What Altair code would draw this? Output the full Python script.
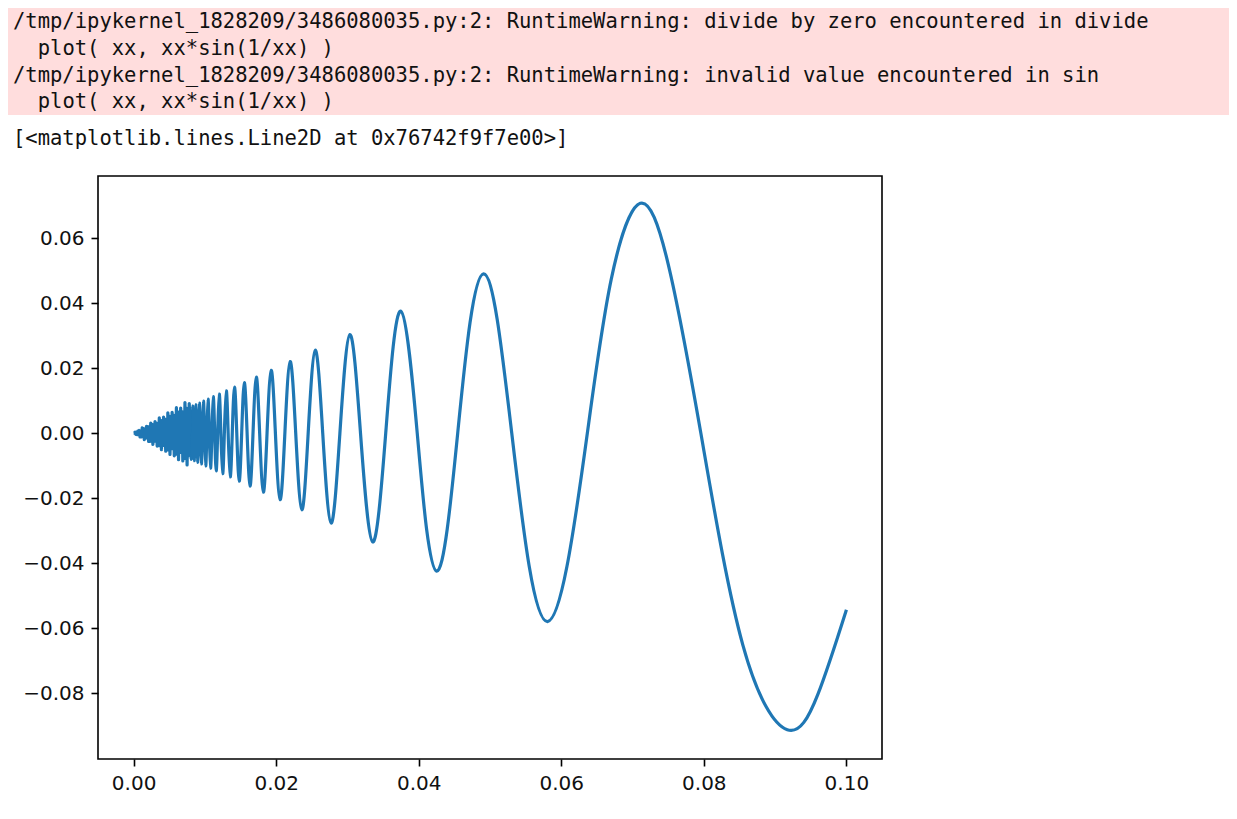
import altair as alt
import pandas as pd

# ---- text shown above the plot (stderr + repr) ----
warning_lines = [
    "/tmp/ipykernel_1828209/3486080035.py:2: RuntimeWarning: divide by zero encountered in divide",
    "plot( xx, xx*sin(1/xx) )",
    "/tmp/ipykernel_1828209/3486080035.py:2: RuntimeWarning: invalid value encountered in sin",
    "plot( xx, xx*sin(1/xx) )",
]
repr_line = "[<matplotlib.lines.Line2D at 0x76742f9f7e00>]"

# ---- curve values: ends, extrema, zero crossings, mid points ----
wave_x = [0.1, 0.096, 0.09171, 0.0855,
          0.07958, 0.075, 0.07109, 0.067, 0.06366, 0.0608, 0.05807, 0.0555,
          0.05305, 0.0510, 0.04909, 0.0472, 0.04547, 0.0440, 0.04252, 0.0411,
          0.03979, 0.03750, 0.03537, 0.03354, 0.03183, 0.03034, 0.02894, 0.02770,
          0.02653, 0.02548, 0.02449, 0.02360, 0.02274, 0.02196, 0.02122, 0.02055,
          0.01989, 0.01930, 0.01872, 0.01820, 0.01768, 0.01721, 0.01675, 0.01633,
          0.01592, 0.01553, 0.01516, 0.01481, 0.01447, 0.01415, 0.01384, 0.01355,
          0.01326, 0.01300, 0.01273, 0.01249, 0.01224, 0.01201, 0.01179, 0.01158,
          0.01137, 0.01117, 0.01098, 0.01079, 0.01061, 0.01044, 0.01027, 0.01011,
          0.00995, 0.009794, 0.009646, 0.009502, 0.009362, 0.009227, 0.009095, 0.008967,
          0.008842, 0.008721, 0.008603, 0.008488, 0.008377, 0.008268, 0.008162, 0.008058,
          0.007958]
wave_y = [-0.0544, -0.0804, -0.0913, -0.0654,
          0, 0.0520, 0.0707, 0.0472, 0, -0.0410, -0.0580, -0.0410,
          0, 0.0351, 0.0490, 0.0340, 0, -0.0295, -0.0425, -0.0295,
          0, 0.0375, 0, -0.0335, 0, 0.0303, 0, -0.0277,
          0, 0.0255, 0, -0.0236, 0, 0.0220, 0, -0.0205,
          0, 0.0193, 0, -0.0182, 0, 0.0172, 0, -0.0163,
          0, 0.0155, 0, -0.0148, 0, 0.0141, 0, -0.0135,
          0, 0.0130, 0, -0.0125, 0, 0.0120, 0, -0.0116,
          0, 0.0112, 0, -0.0108, 0, 0.0104, 0, -0.0101,
          0, 0.0098, 0, -0.0095, 0, 0.0092, 0, -0.0090,
          0, 0.0087, 0, -0.0085, 0, 0.0083, 0, -0.0081,
          0]

# ---- dense, aliased part near zero (read approximately) ----
blob_x = [0.007958, 0.0078, 0.0077, 0.0076, 0.0075, 0.0074, 0.0073, 0.0072, 0.0071, 0.0070,
          0.0069, 0.0068, 0.0067, 0.0066, 0.0065, 0.0064, 0.0063, 0.0062, 0.0061, 0.0060,
          0.0059, 0.0058, 0.0057, 0.0056, 0.0055, 0.0054, 0.0053, 0.0052, 0.0051, 0.0050,
          0.0049, 0.0048, 0.0047, 0.0046, 0.0045, 0.0044, 0.0043, 0.0042, 0.0041, 0.0040,
          0.0039, 0.0038, 0.0037, 0.0036, 0.0035, 0.0034, 0.0033, 0.0032, 0.0031, 0.0030,
          0.0029, 0.0028, 0.0027, 0.0026, 0.0025, 0.0024, 0.0023, 0.0022, 0.0021, 0.0020,
          0.0019, 0.0018, 0.0017, 0.0016, 0.0015, 0.0014, 0.0013, 0.0012, 0.0011, 0.0010,
          0.0009, 0.0008, 0.0007, 0.0006, 0.0005, 0.0004, 0.0003, 0.0002, 0.0001, 0.0]
blob_y = [0, 0.0091, -0.0070, 0.0049, -0.0098, 0.0077, -0.0038, 0.0094, -0.0078, 0.0027,
          -0.0086, 0.0066, -0.0052, 0.0077, -0.0060, 0.0042, -0.0082, 0.0065, -0.0031, 0.0078,
          -0.0065, 0.0022, -0.0070, 0.0055, -0.0043, 0.0064, -0.0048, 0.0034, -0.0066, 0.0052,
          -0.0026, 0.0062, -0.0052, 0.0018, -0.0056, 0.0043, -0.0034, 0.0049, -0.0038, 0.0026,
          -0.0051, 0.0039, -0.0020, 0.0047, -0.0039, 0.0013, -0.0040, 0.0031, -0.0025, 0.0035,
          -0.0026, 0.0018, -0.0035, 0.0027, -0.0013, 0.0031, -0.0026, 0.0009, -0.0026, 0.0020,
          -0.0014, 0.0021, -0.0016, 0.0010, -0.0020, 0.0014, -0.0007, 0.0016, -0.0012, 0.0004,
          -0.0012, 0.0008, -0.0005, 0.0006, -0.0005, 0.0003, -0.0004, 0.0003, 0.0000, 0.0]

x_ticks = [0.0, 0.02, 0.04, 0.06, 0.08, 0.10]
y_ticks = [-0.08, -0.06, -0.04, -0.02, 0.0, 0.02, 0.04, 0.06]

wave_df = pd.DataFrame({"x": wave_x, "y": wave_y})
blob_df = pd.DataFrame({"x": blob_x, "y": blob_y})

LINE_COLOR = "#1f77b4"
x_scale = alt.Scale(domain=[-0.005, 0.105], nice=False, zero=False)
y_scale = alt.Scale(domain=[-0.1003, 0.0791], nice=False, zero=False)
x_axis = alt.Axis(values=x_ticks, format=".2f", title=None)
y_axis = alt.Axis(values=y_ticks, format=".2f", title=None)

wave = alt.Chart(wave_df).mark_line(
    color=LINE_COLOR, strokeWidth=3.2, interpolate="natural"
).encode(
    x=alt.X("x:Q", scale=x_scale, axis=x_axis),
    y=alt.Y("y:Q", scale=y_scale, axis=y_axis),
)

blob = alt.Chart(blob_df).mark_line(
    color=LINE_COLOR, strokeWidth=3.2, strokeJoin="round"
).encode(
    x=alt.X("x:Q", scale=x_scale),
    y=alt.Y("y:Q", scale=y_scale),
)

one = pd.DataFrame({"k": [0]})
pink = alt.Chart(one).mark_rect(color="#ffdddd").encode(
    x=alt.value(-90), x2=alt.value(1131), y=alt.value(-168), y2=alt.value(-61)
)

# left offsets: lines 2 and 4 are indented by two monospace characters
text_x = [-85, -60.3, -85, -60.3]
baselines = [-148, -121, -94, -68]
text_layers = []
for line, xl, yb in zip(warning_lines, text_x, baselines):
    text_layers.append(
        alt.Chart(pd.DataFrame({"t": [line]})).mark_text(
            align="left", baseline="alphabetic", font="DejaVu Sans Mono",
            fontSize=20.5, color="#111111"
        ).encode(x=alt.value(xl), y=alt.value(yb), text="t:N")
    )
text_layers.append(
    alt.Chart(pd.DataFrame({"t": [repr_line]})).mark_text(
        align="left", baseline="alphabetic", font="DejaVu Sans Mono",
        fontSize=20.5, color="#111111"
    ).encode(x=alt.value(-85), y=alt.value(-31), text="t:N")
)

chart = alt.layer(pink, *text_layers, wave, blob).properties(
    width=784,
    height=583,
    autosize=alt.AutoSizeParams(type="none"),
    padding={"left": 90, "top": 168, "right": 347, "bottom": 44},
    background="white",
).configure_view(
    stroke="#000000", strokeWidth=1.6
).configure_axis(
    grid=False, domain=False,
    tickColor="#000000", tickWidth=1.6, tickSize=7,
    labelFont="DejaVu Sans", labelFontSize=20, labelColor="#111111",
    labelPadding=7,
)

chart.save("out.html", embed_options={"renderer": "svg", "actions": False})
